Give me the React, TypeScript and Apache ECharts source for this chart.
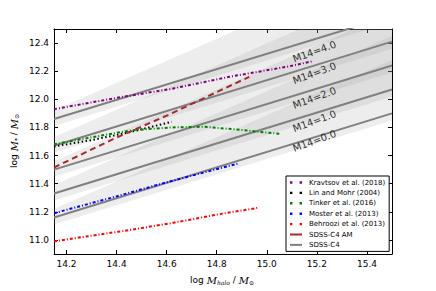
import React, { useEffect, useRef } from "react";
import * as echarts from "echarts";

const xTicks = [14.2, 14.4, 14.6, 14.8, 15.0, 15.2, 15.4];
const yTicks = [11.0, 11.2, 11.4, 11.6, 11.8, 12.0, 12.2, 12.4];

const kravtsovX = [14.15, 14.4, 14.62, 14.85, 15.09, 15.18];
const kravtsovY = [11.93, 12.01, 12.075, 12.16, 12.235, 12.27];
const linMohrX = [14.15, 14.3, 14.45, 14.62];
const linMohrY = [11.665, 11.71, 11.765, 11.84];
const tinkerX = [14.15, 14.3, 14.46, 14.62, 14.75, 14.88, 15.05];
const tinkerY = [11.68, 11.73, 11.78, 11.8, 11.805, 11.785, 11.755];
const mosterX = [14.15, 14.4, 14.6, 14.75, 14.89];
const mosterY = [11.19, 11.31, 11.41, 11.48, 11.545];
const behrooziX = [14.15, 14.3, 14.45, 14.62, 14.8, 14.97];
const behrooziY = [10.99, 11.03, 11.07, 11.12, 11.18, 11.23];
const amX = [14.15, 14.39, 14.62, 14.81, 14.93];
const amY = [11.515, 11.72, 11.9, 12.06, 12.16];

// SDSS-C4 relations for each M14 value (endpoints at left and right of the plot)
const c4X = [14.15, 15.5];
const c4Labels = ["M14=4.0", "M14=3.0", "M14=2.0", "M14=1.0", "M14=0.0"];
const c4Left = [11.86, 11.67, 11.5, 11.33, 11.16];
const c4Right = [12.596, 12.41, 12.24, 12.07, 11.9];
const bandLoLeft = [11.81, 11.62, 11.45, 11.28, 11.11];
const bandLoRight = [12.55, 12.36, 12.19, 12.02, 11.85];
const bandHiLeft = [11.92, 11.73, 11.56, 11.39, 11.22];
const bandHiRight = [12.98, 12.79, 12.62, 12.45, 12.28];
const labelX = [15.19, 15.19, 15.19, 15.19, 15.19];
const labelY = [12.34, 12.186, 12.01, 11.845, 11.704];

const legendNames = [
  "Kravtsov et al. (2018)",
  "Lin and Mohr (2004)",
  "Tinker et al. (2016)",
  "Moster et al. (2013)",
  "Behroozi et al. (2013)",
  "SDSS-C4 AM",
  "SDSS-C4",
];

const zip = (xs: number[], ys: number[]) => xs.map((x, i) => [x, ys[i]]);

const dashDot = [3, 2, 1, 2];
const dotsIcon = "path://M0,0h2v2h-2zM8,0h2v2h-2z";
const barIcon = "path://M0,0h12v2h-12z";

export default function App() {
  const ref = useRef<HTMLDivElement>(null);
  useEffect(() => {
    const chart = echarts.init(ref.current!, null, { renderer: "svg" });
    const font = "DejaVu Sans";
    const obsLine = (name: string, color: string, xs: number[], ys: number[], type: any) => ({
      type: "line",
      name,
      data: zip(xs, ys),
      showSymbol: false,
      symbol: "none",
      lineStyle: { color, width: 2, type },
      itemStyle: { color },
      z: 5,
    });
    const series: any[] = [];
    series.push({
      type: "custom",
      name: "bands",
      clip: true,
      z: 1,
      silent: true,
      data: c4Labels.map((_, i) => [c4X[0], bandLoLeft[i], bandHiLeft[i], c4X[1], bandLoRight[i], bandHiRight[i]]),
      encode: { x: [0, 3], y: [1, 2, 4, 5] },
      renderItem: (params: any, api: any) => {
        const p1 = api.coord([api.value(0), api.value(1)]);
        const p2 = api.coord([api.value(3), api.value(4)]);
        const p3 = api.coord([api.value(3), api.value(5)]);
        const p4 = api.coord([api.value(0), api.value(2)]);
        return {
          type: "polygon",
          shape: { points: [p1, p2, p3, p4] },
          style: { fill: "rgba(140,140,140,0.16)", stroke: "none" },
        };
      },
    });
    c4Labels.forEach((_, i) => {
      series.push({
        type: "line",
        name: "SDSS-C4",
        data: zip(c4X, [c4Left[i], c4Right[i]]),
        showSymbol: false,
        symbol: "none",
        lineStyle: { color: "#808080", width: 2 },
        itemStyle: { color: "#808080" },
        z: 3,
      });
    });
    series.push(obsLine("Kravtsov et al. (2018)", "#800080", kravtsovX, kravtsovY, dashDot));
    series.push(obsLine("Lin and Mohr (2004)", "#000000", linMohrX, linMohrY, [1.5, 2.5]));
    series.push(obsLine("Tinker et al. (2016)", "#008000", tinkerX, tinkerY, dashDot));
    series.push(obsLine("Moster et al. (2013)", "#0000ff", mosterX, mosterY, dashDot));
    series.push(obsLine("Behroozi et al. (2013)", "#ff0000", behrooziX, behrooziY, dashDot));
    series.push(obsLine("SDSS-C4 AM", "#a52a2a", amX, amY, [6, 4]));
    series.push({
      type: "scatter",
      name: "labels",
      symbolSize: 0,
      silent: true,
      z: 6,
      data: c4Labels.map((t, i) => ({
        value: [labelX[i], labelY[i]],
        label: { formatter: t },
      })),
      label: {
        show: true,
        position: "inside",
        rotate: 20,
        color: "#000",
        fontFamily: font,
        fontSize: 10,
      },
    });

    const axisCommon = {
      type: "value",
      axisLine: { show: true, onZero: false, lineStyle: { color: "#000", width: 1 } },
      splitLine: { show: false },
    };
    const option: any = {
      animation: false,
      backgroundColor: "#fff",
      grid: { left: 54, right: 44, top: 29, bottom: 37 },
      xAxis: [
        {
          ...axisCommon,
          min: 14.15,
          max: 15.5,
          position: "bottom",
          axisTick: { show: true, inside: true, length: 4, customValues: xTicks, lineStyle: { color: "#000" } },
          axisLabel: {
            show: true,
            customValues: xTicks,
            margin: 5,
            fontFamily: font,
            fontSize: 9,
            color: "#000",
            formatter: (v: number) => v.toFixed(1),
          },
        },
        {
          ...axisCommon,
          min: 14.15,
          max: 15.5,
          position: "top",
          axisTick: { show: true, inside: true, length: 4, customValues: xTicks, lineStyle: { color: "#000" } },
          axisLabel: { show: false },
        },
      ],
      yAxis: [
        {
          ...axisCommon,
          min: 10.9,
          max: 12.5,
          position: "left",
          axisTick: { show: true, inside: true, length: 4, customValues: yTicks, lineStyle: { color: "#000" } },
          axisLabel: {
            show: true,
            customValues: yTicks,
            margin: 5,
            fontFamily: font,
            fontSize: 9,
            color: "#000",
            formatter: (v: number) => v.toFixed(1),
          },
        },
        {
          ...axisCommon,
          min: 10.9,
          max: 12.5,
          position: "right",
          axisTick: { show: true, inside: true, length: 4, customValues: yTicks, lineStyle: { color: "#000" } },
          axisLabel: { show: false },
        },
      ],
      legend: {
        data: legendNames.map((n, i) => ({ name: n, icon: i < 5 ? dotsIcon : barIcon })),
        orient: "vertical",
        left: 286,
        top: 176,
        width: 103,
        padding: [3, 4, 3, 4],
        itemWidth: 12,
        itemHeight: 7,
        itemGap: 3.4,
        backgroundColor: "#fff",
        borderColor: "#000",
        borderWidth: 1,
        borderRadius: 0,
        itemStyle: { borderWidth: 0 },
        textStyle: { fontFamily: font, fontSize: 7, color: "#000", padding: [0, 0, 0, 2] },
      },
      graphic: [
        {
          type: "text",
          x: 222,
          y: 280,
          style: {
            text: "{n|log }{i|M}{s|halo}{n| / }{i|M}{s|⊙}",
            align: "center",
            verticalAlign: "middle",
            rich: {
              n: { fontFamily: font, fontSize: 9, fill: "#000" },
              i: { fontFamily: "DejaVu Serif", fontStyle: "italic", fontSize: 10, fill: "#000" },
              s: { fontFamily: "DejaVu Serif", fontStyle: "italic", fontSize: 6, fill: "#000", verticalAlign: "bottom", padding: [4, 0, 0, 0] },
            },
          },
        },
        {
          type: "text",
          x: 14,
          y: 141,
          rotation: Math.PI / 2,
          style: {
            text: "{n|log }{i|M}{s|*}{n| / }{i|M}{s|⊙}",
            align: "center",
            verticalAlign: "middle",
            rich: {
              n: { fontFamily: font, fontSize: 9, fill: "#000" },
              i: { fontFamily: "DejaVu Serif", fontStyle: "italic", fontSize: 10, fill: "#000" },
              s: { fontFamily: "DejaVu Serif", fontStyle: "italic", fontSize: 6, fill: "#000", verticalAlign: "bottom", padding: [4, 0, 0, 0] },
            },
          },
        },
      ],
      series,
    };
    chart.setOption(option);
    return () => chart.dispose();
  }, []);
  return (
    <div
      ref={ref}
      style={{ position: "fixed", left: 0, top: 0, width: 436, height: 291 }}
    />
  );
}
